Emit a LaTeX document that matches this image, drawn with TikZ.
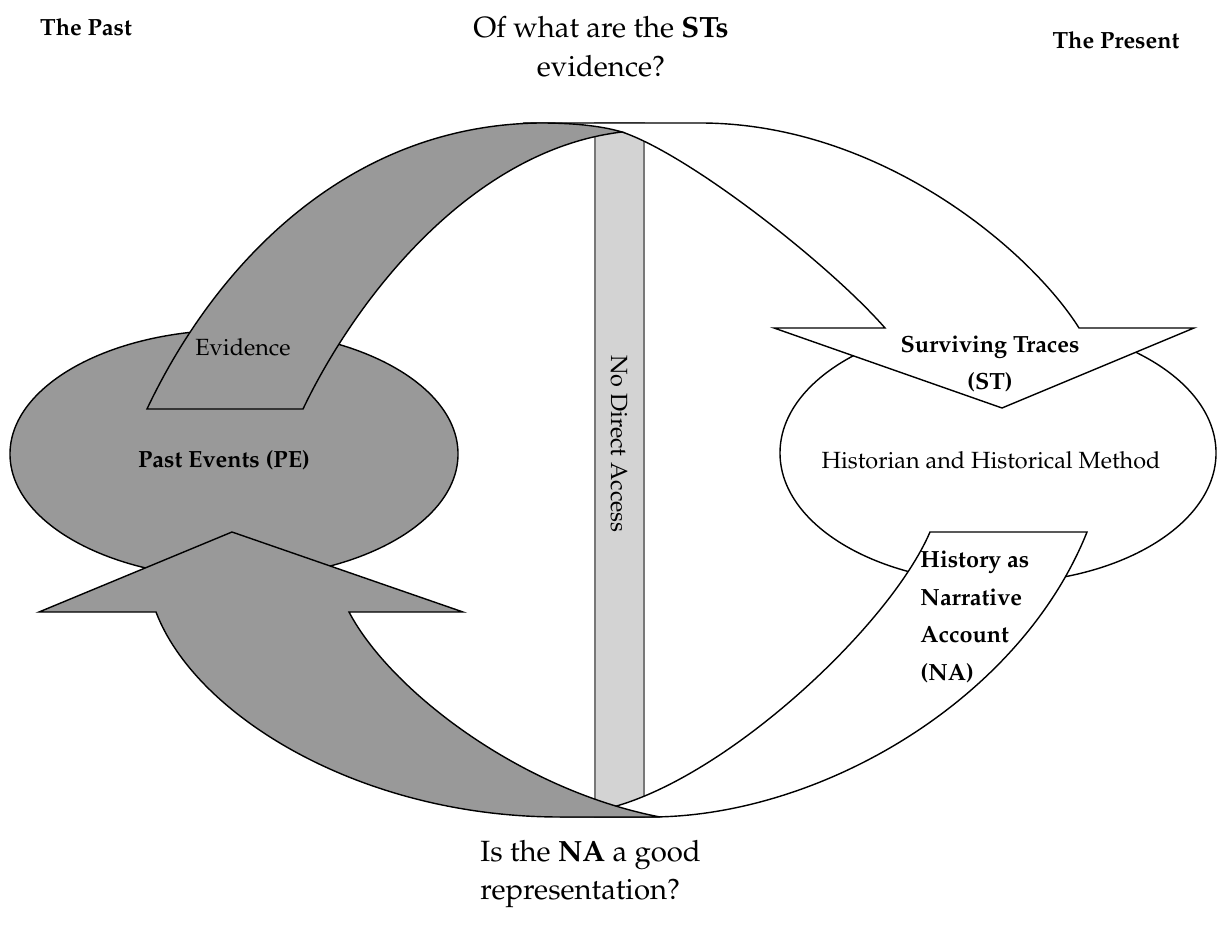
\documentclass[tikz,border=0pt]{standalone}
\usepackage[T1]{fontenc}
\usepackage{mathpazo}
\usepackage{tikz}
\usetikzlibrary{shapes, positioning}
\definecolor{pegray}{RGB}{153,153,153}
\definecolor{barfill}{RGB}{211,211,211}
\definecolor{barline}{RGB}{120,120,120}

\begin{document}
\begin{tikzpicture}[x=0.015cm,y=-0.015cm,line join=miter,
        every node/.style={font=\fontsize{10}{16}\selectfont,inner sep=0pt}]
        \tikzstyle{blob}=[ellipse,draw=black,line width=0.6pt,inner sep=0pt]
        \tikzstyle{band}=[draw=black,line width=0.6pt]
        \tikzstyle{strong}=[font=\fontsize{10}{16}\selectfont\bfseries]
        \tikzstyle{ask}=[font=\fontsize{12.5}{16.5}\selectfont]
        \useasboundingbox (0,0) rectangle (1219,945);
        \draw[draw=barline,fill=barfill,line width=0.8pt] (595,123) rectangle (644,817);
        \node[rotate=-90](NDA) at (619,444) {No Direct Access};
        \node[blob,fill=pegray,minimum width=6.72cm,minimum height=3.72cm](PE) at (234,454) {};
        \node[strong](PElabel) at (224,460) {Past Events (PE)};
        \node[blob,fill=white,minimum width=6.54cm,minimum height=3.9cm](HM) at (998,453) {};
        \node(HMlabel) at (991,460) {Historian and Historical Method};
        \draw[band,fill=white] (523,123) -- (700,123) .. controls (880,123) and (1030,250) .. (1079,328) -- (1194,328) -- (1002,408) -- (774,328) -- (885,328) .. controls (830,265) and (690,155) .. (622,132) -- cycle;
        \draw[band,fill=white] (930,532) -- (1087,532) .. controls (1020,700) and (820,817) .. (650,817) -- (560,817) -- (613,807) .. controls (730,775) and (890,625) .. (930,532) -- cycle;
        \draw[band,fill=pegray] (147,409) .. controls (217,261) and (350,125) .. (540,123) .. controls (580,123) and (605,127) .. (622,132) .. controls (470,150) and (355,300) .. (303,409) -- cycle;
        \draw[band,fill=pegray] (349,612) -- (463,612) -- (232,532) -- (39,612) -- (156,612) .. controls (195,715) and (360,817) .. (560,817) -- (660,817) .. controls (520,790) and (390,690) .. (349,612) -- cycle;
        \node(EV) at (243,347) {Evidence};
        \node[strong,align=center](ST) at (990,364) {Surviving Traces\\(ST)};
        \node[strong,align=left,anchor=west](NA) at (920,617) {History as\\Narrative\\Account\\(NA)};
        \node[strong](past) at (86,27) {The Past};
        \node[strong](present) at (1116,40) {The Present};
        \node[ask,align=center](Q1) at (601,47) {Of what are the \textbf{STs}\\evidence?};
        \node[ask,align=left,anchor=west](Q2) at (480,874) {Is the \textbf{NA} a good\\representation?};
\end{tikzpicture}
\end{document}
